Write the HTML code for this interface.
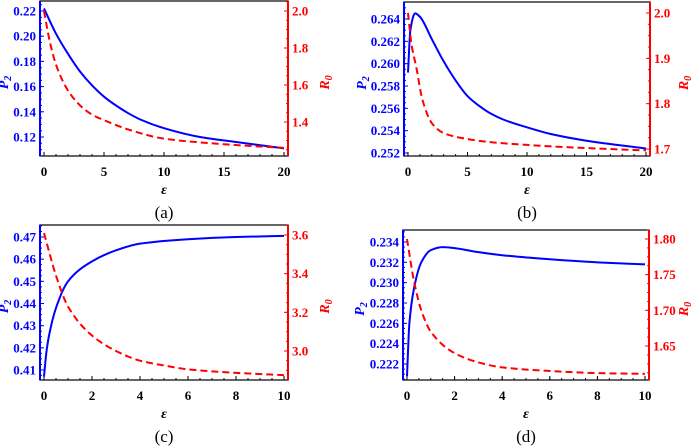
<!DOCTYPE html>
<html><head><meta charset="utf-8"><style>
body{margin:0;background:#fff;width:692px;height:447px;overflow:hidden}
svg{display:block}
text{font-family:"Liberation Serif",serif;font-weight:bold}
</style></head><body>
<svg id="s" width="692" height="447"></svg>
<script>
const aX=[0,1,2,3,4,5,6,7,8,10,13,16,20];
const aP=[0.222,0.202,0.186,0.172,0.161,0.152,0.145,0.139,0.134,0.127,0.120,0.116,0.111];
const aRx=[0,0.5,1,2,3,4,5,7,10,15,20];
const aR=[2.0,1.83,1.71,1.57,1.49,1.44,1.41,1.36,1.31,1.28,1.26];
const bX=[0,0.2,0.6,1,2,3,4,5,6,7,8,10,12,15,20];
const bP=[0.2592,0.263,0.2645,0.2642,0.2622,0.2602,0.2585,0.2571,0.2562,0.2555,0.2550,0.2543,0.2537,0.2531,0.2524];
const bRx=[0,0.3,0.7,1.2,2,3,5,7,10,15,20];
const bR=[2.0,1.93,1.88,1.81,1.757,1.735,1.722,1.715,1.709,1.702,1.697];
const cX=[0,0.1,0.2,0.5,1,2,3,4,6,8,10];
const cP=[0.407,0.418,0.425,0.438,0.450,0.459,0.464,0.467,0.469,0.470,0.4705];
const cRx=[0,0.5,1,2,3,4,5,6,8,10];
const cR=[3.61,3.39,3.23,3.08,3.00,2.95,2.925,2.905,2.887,2.875];
const dX=[0,0.1,0.3,0.6,1,1.5,2,3,4,6,8,10];
const dP=[0.2208,0.226,0.2295,0.232,0.2332,0.2335,0.2334,0.2330,0.2327,0.2323,0.2320,0.2318];
const dRx=[0,0.3,0.6,1,2,3,4,6,8,10];
const dR=[1.80,1.74,1.70,1.67,1.64,1.627,1.62,1.615,1.612,1.611];

const S=document.getElementById('s');const NS='http://www.w3.org/2000/svg';
function el(t,a,p){const e=document.createElementNS(NS,t);for(const k in a)e.setAttribute(k,a[k]);(p||S).appendChild(e);return e;}
function path(xs,ys,fx,fy){
 const X=xs.map(fx),Y=ys.map(fy),n=X.length;const d=[],m=new Array(n);
 for(let i=0;i<n-1;i++)d.push((Y[i+1]-Y[i])/(X[i+1]-X[i]));
 m[0]=d[0];m[n-1]=d[n-2];
 for(let i=1;i<n-1;i++){if(d[i-1]*d[i]<=0)m[i]=0;else{const h0=X[i]-X[i-1],h1=X[i+1]-X[i];const w1=2*h1+h0,w2=h1+2*h0;m[i]=(w1+w2)/(w1/d[i-1]+w2/d[i]);}}
 let s='M'+X[0]+','+Y[0];
 for(let i=0;i<n-1;i++){const h=(X[i+1]-X[i])/3;s+=' C'+(X[i]+h)+','+(Y[i]+m[i]*h)+' '+(X[i+1]-h)+','+(Y[i+1]-m[i+1]*h)+' '+X[i+1]+','+Y[i+1];}
 return s;}
function panel(c){
 const g=el('g',{});
 const fx=x=>c.x0+(x-c.xmin)/(c.xmax-c.xmin)*(c.x1-c.x0);
 const fl=v=>c.ly0+(v-c.lv0)/(c.lv1-c.lv0)*(c.ly1-c.ly0);
 const fr=v=>c.ry0+(v-c.rv0)/(c.rv1-c.rv0)*(c.ry1-c.ry0);
 el('rect',{x:c.L,y:c.T,width:c.R-c.L,height:c.B-c.T,fill:'none',stroke:'#000','stroke-width':1.2},g);
 el('line',{x1:c.L,y1:c.T,x2:c.L,y2:c.B,stroke:'#00f','stroke-width':2},g);
 el('line',{x1:c.R,y1:c.T,x2:c.R,y2:c.B,stroke:'#f00','stroke-width':2},g);
 for(let i=0;i<c.xt.length;i++){const x=fx(c.xt[i]);el('line',{x1:x,y1:c.B,x2:x,y2:c.B-4,stroke:'#000'},g);
  const t=el('text',{x:x,y:c.B+20,'text-anchor':'middle','font-size':13},g);t.textContent=c.xt[i];}
 const xs=(c.xt[1]-c.xt[0])/(c.xminor);for(let v=c.xmin;v<=c.xmax+1e-9;v+=xs){const x=fx(v);el('line',{x1:x,y1:c.B,x2:x,y2:c.B-2,stroke:'#000'},g);}
 for(const v of c.lt){const y=fl(v);el('line',{x1:c.L,y1:y,x2:c.L+4,y2:y,stroke:'#00f'},g);
  const t=el('text',{x:c.L-4,y:y+4.5,'text-anchor':'end','font-size':13,fill:'#00f'},g);t.textContent=v.toFixed(c.ld);}
 const lst=(c.lt[1]-c.lt[0])/4;for(let v=c.lt[0]-4*lst;v<=c.lt[c.lt.length-1]+4*lst;v+=lst){const y=fl(v);if(y>c.T&&y<c.B)el('line',{x1:c.L,y1:y,x2:c.L+2,y2:y,stroke:'#00f'},g);}
 for(const v of c.rt){const y=fr(v);el('line',{x1:c.R,y1:y,x2:c.R-4,y2:y,stroke:'#f00'},g);
  const t=el('text',{x:c.R+4,y:y+4.5,'font-size':13,fill:'#f00'},g);t.textContent=v.toFixed(c.rd);}
 const rst=(c.rt[1]-c.rt[0])/4;for(let v=c.rt[0]-4*rst;v<=c.rt[c.rt.length-1]+4*rst;v+=rst){const y=fr(v);if(y>c.T&&y<c.B)el('line',{x1:c.R,y1:y,x2:c.R-2,y2:y,stroke:'#f00'},g);}
 const pb=el('path',{d:path(c.px,c.pv,fx,fl),fill:'none',stroke:'#00f','stroke-width':2},g);
 
 const pr=el('path',{d:path(c.rx,c.rv,fx,fr),fill:'none',stroke:'#f00','stroke-width':2,'stroke-dasharray':'7,4'},g);
 
 const cy=(c.T+c.B)/2;
 let t=el('text',{x:0,y:0,transform:`translate(${c.plx},${cy+4}) rotate(-90)`,'text-anchor':'middle','font-size':14,fill:'#00f','font-style':'italic'},g);
 t.innerHTML='P<tspan font-size="10" dy="3">2</tspan>';
 t=el('text',{x:0,y:0,transform:`translate(${c.rlx},${cy+4}) rotate(-90)`,'text-anchor':'middle','font-size':14,fill:'#f00','font-style':'italic'},g);
 t.innerHTML='R<tspan font-size="10" dy="3">0</tspan>';
 t=el('text',{x:(c.L+c.R)/2,y:c.B+38,'text-anchor':'middle','font-size':14,'font-style':'italic'},g);t.textContent='ε';
 
 t=el('text',{x:(c.L+c.R)/2,y:c.B+62,'text-anchor':'middle','font-size':17,style:'font-weight:normal'},g);t.textContent='('+c.id+')';
 
}
panel({id:'a',L:40,R:288,T:1,B:156,x0:44,x1:284,xmin:0,xmax:20,xt:[0,5,10,15,20],xminor:5,
 ly0:11,ly1:137,lv0:0.22,lv1:0.12,lt:[0.12,0.14,0.16,0.18,0.20,0.22],ld:2,
 ry0:11,ry1:122,rv0:2.0,rv1:1.4,rt:[1.4,1.6,1.8,2.0],rd:1,px:aX,pv:aP,rx:aRx,rv:aR,plx:8,rlx:329});
panel({id:'b',L:404,R:650,T:2,B:156,x0:408,x1:646,xmin:0,xmax:20,xt:[0,5,10,15,20],xminor:5,
 ly0:19,ly1:153,lv0:0.264,lv1:0.252,lt:[0.252,0.254,0.256,0.258,0.260,0.262,0.264],ld:3,
 ry0:13,ry1:149,rv0:2.0,rv1:1.7,rt:[1.7,1.8,1.9,2.0],rd:1,px:bX,pv:bP,rx:bRx,rv:bR,plx:366,rlx:688});
panel({id:'c',L:40,R:288,T:225,B:380,x0:44,x1:284,xmin:0,xmax:10,xt:[0,2,4,6,8,10],xminor:4,
 ly0:237,ly1:370,lv0:0.47,lv1:0.41,lt:[0.41,0.42,0.43,0.44,0.45,0.46,0.47],ld:2,
 ry0:235,ry1:351,rv0:3.6,rv1:3.0,rt:[3.0,3.2,3.4,3.6],rd:1,px:cX,pv:cP,rx:cRx,rv:cR,plx:8,rlx:329});
panel({id:'d',L:403,R:649,T:230,B:380,x0:407,x1:645,xmin:0,xmax:10,xt:[0,2,4,6,8,10],xminor:4,
 ly0:242,ly1:364,lv0:0.234,lv1:0.222,lt:[0.222,0.224,0.226,0.228,0.230,0.232,0.234],ld:3,
 ry0:239,ry1:346,rv0:1.80,rv1:1.65,rt:[1.65,1.70,1.75,1.80],rd:2,px:dX,pv:dP,rx:dRx,rv:dR,plx:364,rlx:688});
</script>
</body></html>
